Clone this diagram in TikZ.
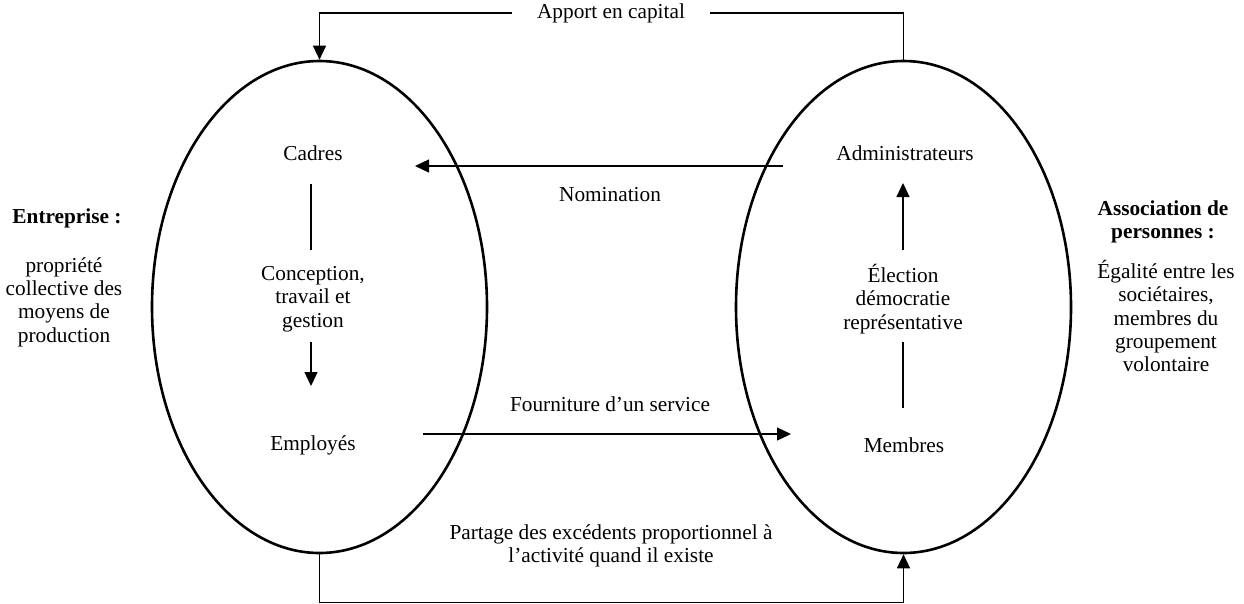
\documentclass[tikz,border=0pt]{standalone}
\usepackage{fontspec}
\setmainfont{Liberation Serif}
\usetikzlibrary{arrows.meta,shapes.geometric}
\begin{document}
\begin{tikzpicture}[x=1pt,y=-1pt,
  every node/.style={font=\fontsize{21.3}{23.3}\selectfont, inner sep=0pt, align=center},
  boldtxt/.style={font=\fontsize{21.3}{23.3}\selectfont\bfseries},
  oval/.style={draw, ellipse, line width=2.6pt, minimum width=335pt, minimum height=492pt},
  link/.style={line width=1.3pt},
  arr/.style={link, -{Triangle[length=14pt,width=13pt]}},
  ]
\useasboundingbox (0,0) rectangle (1244,603);
% ellipses
\node[oval] (L) at (319.5,307) {};
\node[oval] (R) at (903.5,307) {};
% texts
\node[fill=white, inner xsep=25pt, inner ysep=4pt] (apport) at (611,13) {Apport en capital};
\node (cadres) at (313,153) {Cadres};
\node (concep) at (313,299) {Conception,\\travail et\\gestion};
\node (employes) at (313,445) {Employés};
\node (admin) at (905,153) {Administrateurs};
\node (elect) at (903,299) {Élection\\démocratie\\représentative};
\node (membres) at (904,445) {Membres};
\node (nom) at (610,195) {Nomination};
\node (four) at (610,404) {Fourniture d’un service};
\node (partage) at (611,546) {Partage des excédents proportionnel à\\l’activité quand il existe};
\node[boldtxt] (ent) at (67,218) {Entreprise :};
\node (entd) at (64,302) {propriété\\collective des\\moyens de\\production};
\node[boldtxt] (assoc) at (1163,222) {Association de\\personnes :};
\node (assocd) at (1166,316) {Égalité entre les\\sociétaires,\\membres du\\groupement\\volontaire};
% connector end points
\coordinate (nomR) at (783,166);
\coordinate (nomL) at (415,166);
\coordinate (fourL) at (423,434);
\coordinate (fourR) at (791,434);
\coordinate (cadB) at (311,184);
\coordinate (conT) at (311,250);
\coordinate (conB) at (311,342);
\coordinate (empT) at (311,386);
\coordinate (memT) at (903,408);
\coordinate (eleB) at (903,342);
\coordinate (eleT) at (903,250);
\coordinate (admB) at (903,183);
% connectors
\draw[link] (R.north) |- (apport.east);
\draw[arr] (apport.west) -| (L.north);
\draw[arr] (L.south) -- ++(0,48) -| (R.south);
\draw[arr] (nomR) -- (nomL);
\draw[arr] (fourL) -- (fourR);
\draw[link] (cadB) -- (conT);
\draw[arr] (conB) -- (empT);
\draw[link] (memT) -- (eleB);
\draw[arr] (eleT) -- (admB);
\end{tikzpicture}
\end{document}
